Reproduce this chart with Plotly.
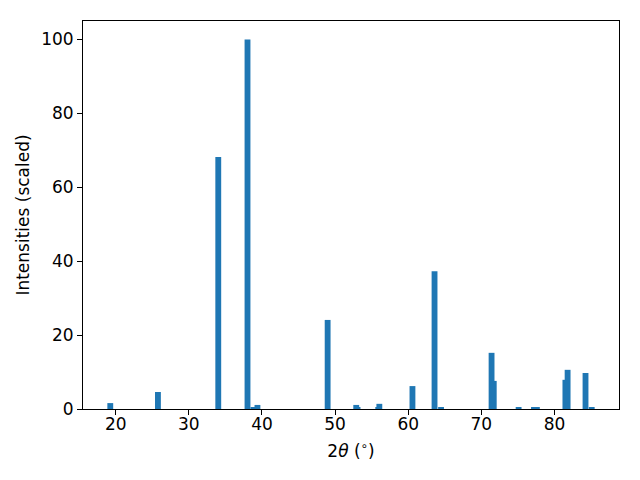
import plotly.graph_objects as go

two_theta = [19.25, 25.77, 34.02, 38.02, 38.83, 39.38, 48.98, 52.89, 53.07,
             55.90, 56.05, 60.58, 63.60, 64.49, 71.70, 71.40, 75.10, 77.60,
             77.20, 81.50, 81.80, 84.25, 85.10]
intensity = [1.6, 4.6, 68.2, 100.0, 0.3, 1.1, 24.1, 1.1, 0.5,
             0.3, 1.4, 6.2, 37.3, 0.5, 7.6, 15.2, 0.3, 0.3,
             0.5, 7.9, 10.6, 9.75, 0.3]

x_ticks = [20, 30, 40, 50, 60, 70, 80]
y_ticks = [0, 20, 40, 60, 80, 100]

fig = go.Figure(go.Bar(
    x=two_theta, y=intensity, width=0.8,
    marker=dict(color="#1f77b4", line=dict(width=0)),
))

FONT = "DejaVu Sans"
FS = 17

axis_common = dict(
    showgrid=False, zeroline=False, showline=True, mirror=True,
    linecolor="black", linewidth=1, ticks="outside", ticklen=5,
    tickwidth=1, tickcolor="black",
    tickfont=dict(family=FONT, size=FS, color="black"),
)

fig.update_layout(
    width=632, height=472,
    margin=dict(l=75, r=21, t=13, b=71),
    paper_bgcolor="white", plot_bgcolor="white",
    barmode="overlay", showlegend=False,
    font=dict(family=FONT, size=FS, color="black"),
    xaxis=dict(range=[15.52, 88.83], tickvals=x_ticks, ticklabelstandoff=-5,
               title=dict(text="2<i>θ</i> (<sup>∘</sup>)", standoff=11,
                          font=dict(family=FONT, size=FS)),
               **axis_common),
    yaxis=dict(range=[0, 105], tickvals=y_ticks,
               title=dict(text="Intensities (scaled)", standoff=7,
                          font=dict(family=FONT, size=FS)),
               **axis_common),
)

fig.write_html("out.html")
